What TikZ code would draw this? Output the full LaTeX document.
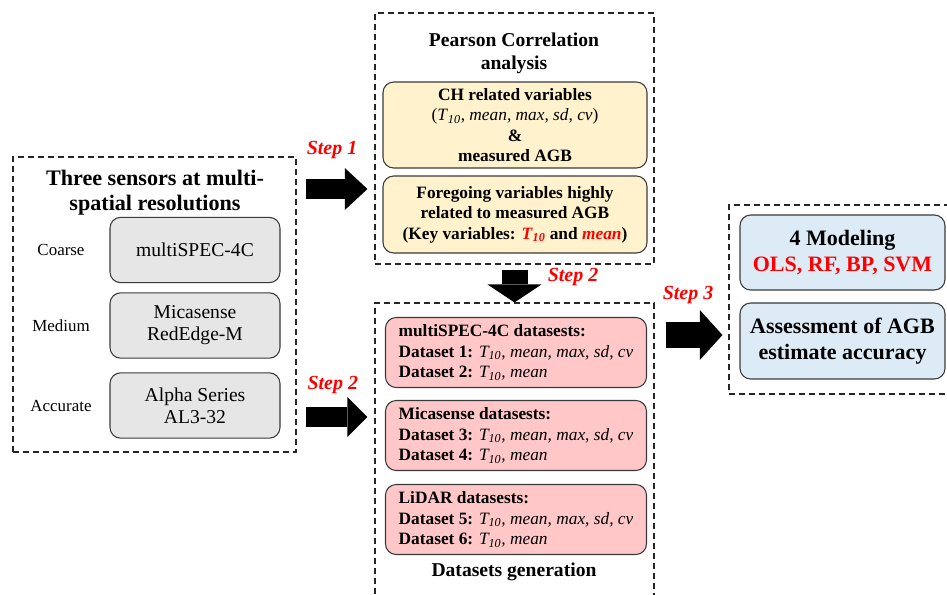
\documentclass[tikz,border=0pt]{standalone}
\usepackage{fontspec}
\setmainfont{Liberation Serif}
\usepackage{xcolor}
\usetikzlibrary{arrows.meta, positioning, fit, calc}
\definecolor{boxline}{HTML}{3A3A3A}
\definecolor{sensgray}{HTML}{E6E6E6}
\definecolor{corryellow}{HTML}{FFF2CC}
\definecolor{datapink}{HTML}{FFC7C7}
\definecolor{modelblue}{HTML}{DDEBF7}
\definecolor{stepred}{HTML}{FF0000}
\newcommand{\tten}{\textit{T}\textsubscript{\textit{10}}}

\begin{document}
\begin{tikzpicture}[
  x=0.75pt, y=-0.75pt,
  every node/.style={font=\fontsize{13}{15.3}\selectfont},
  box/.style={draw=boxline, line width=0.8pt, rounded corners=8pt,
              inner sep=2pt, align=center},
  dashgroup/.style={draw=black!85, line width=0.8pt,
                    dash pattern=on 4.5pt off 3pt, inner sep=0pt},
  sensor/.style={box, fill=sensgray, minimum width=127.5pt, minimum height=49pt,
                 font=\fontsize{14.7}{16.5}\selectfont},
  corr/.style={box, fill=corryellow, minimum width=198pt,
               font=\fontsize{13}{15.3}\selectfont\bfseries},
  dataset/.style={box, fill=datapink, minimum width=195.75pt,
                  minimum height=52.5pt, align=left},
  model/.style={box, fill=modelblue, minimum width=153.75pt,
                font=\fontsize{16.5}{19.5}\selectfont\bfseries},
  sectitle/.style={align=center, font=\fontsize{14.7}{17.3}\selectfont\bfseries},
  reslbl/.style={font=\fontsize{12.7}{15}\selectfont},
  steplbl/.style={text=stepred, inner sep=1pt,
                  font=\fontsize{15}{18}\selectfont\bfseries\itshape},
  blockarrow/.style n args={3}{line width=#1,
                  -{Triangle[length=#2, width=#3, line width=0pt]}}
]
\useasboundingbox (0,0) rectangle (947,594);
\clip (0,0) rectangle (947,594);

%% sensors
\node[dashgroup, fit={(13,157) (296,452)}] (sensors) {};
\node[sectitle, font=\fontsize{16.6}{18.75}\selectfont\bfseries]
  (sensortitle) at (155,193) {Three sensors at multi-\\spatial resolutions};
\foreach \i/\y/\lab/\txt in {1/250/Coarse/multiSPEC-4C,
    2/325.5/Medium/{Micasense\\RedEdge-M},
    3/405.5/Accurate/{Alpha Series\\AL3-32}} {
  \node[sensor] (sen\i) at (195,\y) {\txt};
  \node[reslbl] (res\i) at (61,\y) {\lab};
}

%% correlation analysis
\node[dashgroup, fit={(375,13) (654,264)}] (pearson) {};
\node[sectitle] (pearsontitle) at (514,53) {Pearson Correlation\\analysis};
\node[corr, minimum height=64.5pt] (corr1) at (515,125)
  {CH related variables\\
   \textmd{(\tten, \textit{mean, max, sd, cv})}\\
   \&\\
   measured AGB};
\node[corr, minimum height=57.75pt] (corr2) at (515,214.5)
  {Foregoing variables highly\\
   related to measured AGB\\
   (Key variables: \textcolor{stepred}{\tten} and \textcolor{stepred}{\textit{mean}})};

%% datasets generation
\node[dashgroup, fit={(375,303) (654,620)}] (datasets) {};
\node[sectitle] (datasetstitle) at (514,572) {Datasets generation};
\foreach \i/\y/\sens/\a/\b in {1/352.5/multiSPEC-4C/1/2,
    2/435.5/Micasense/3/4, 3/519.5/LiDAR/5/6} {
  \node[dataset] (set\i) at (516,\y)
    {\textbf{\sens{} datasests:}\\
     \textbf{Dataset \a:} \textit{\tten, mean, max, sd, cv}\\
     \textbf{Dataset \b:} \textit{\tten, mean}};
}

%% modeling
\node[dashgroup, fit={(729,205) (970,394)}] (models) {};
\node[model, minimum height=56.25pt] (mod1) at (842.5,252.5)
  {4 Modeling\\\textcolor{stepred}{OLS, RF, BP, SVM}};
\node[model, minimum height=57pt] (mod2) at (842.5,341)
  {Assessment of AGB\\estimate accuracy};

%% steps
\coordinate (s1) at (0,189);
\coordinate (s2) at (0,417);
\coordinate (s3) at (0,335);
\draw[blockarrow={15pt}{17pt}{31.5pt}, shorten <=6.75pt, shorten >=5.25pt]
  (sensors.east |- s1) -- (pearson.west |- s1)
  node[steplbl, midway, yshift=29.25pt, xshift=-2.6pt] {Step 1};
\draw[blockarrow={15pt}{15pt}{30pt}, shorten <=6.75pt, shorten >=5.25pt]
  (sensors.east |- s2) -- (datasets.west |- s2)
  node[steplbl, midway, yshift=24pt, xshift=-2pt] {Step 2};
\draw[blockarrow={19.5pt}{13.5pt}{40.5pt}, shorten <=3.75pt]
  (pearson.south) -- (datasets.north)
  node[steplbl, midway, xshift=43.9pt, yshift=4.9pt] {Step 2};
\draw[blockarrow={19.5pt}{17pt}{37.5pt}, shorten <=8.25pt, shorten >=4.5pt]
  (datasets.east |- s3) -- (models.west |- s3)
  node[steplbl, midway, yshift=30pt, xshift=-2.6pt] {Step 3};

\end{tikzpicture}
\end{document}
